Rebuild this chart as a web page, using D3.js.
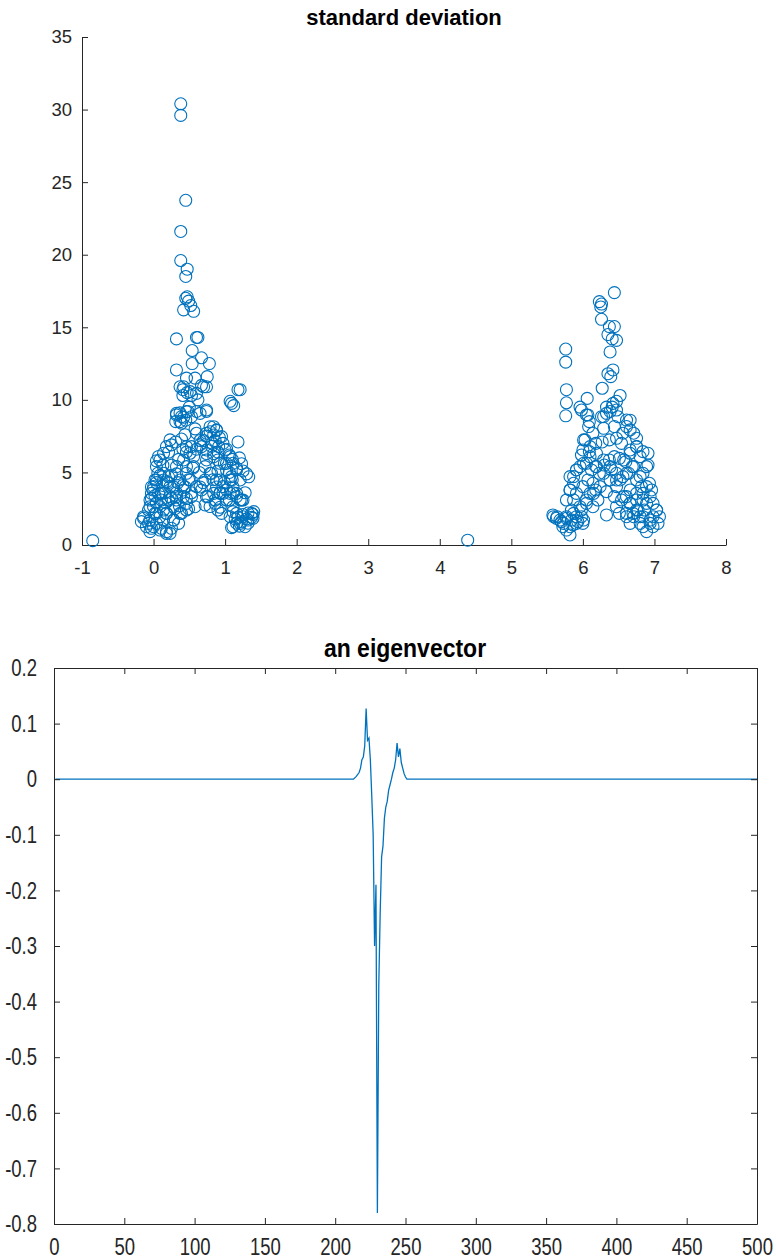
<!DOCTYPE html>
<html>
<head>
<meta charset="utf-8">
<script src="https://cdn.jsdelivr.net/npm/d3@7"></script>
<style>
  body { margin: 0; background: #fff; }
  svg { display: block; font-family: "Liberation Sans", Arial, sans-serif; }
</style>
</head>
<body>
<svg id="chart" width="776" height="1260"></svg>
<script>
// standard deviation points, left group [x, y]
const groupLeft = [
  [0.38,30.4],[0.38,29.6],[0.45,23.75],[0.38,21.6],[0.38,19.6],[0.47,19.0],[0.45,18.5],[0.47,17.1],
  [0.45,17.0],[0.49,16.8],[0.52,16.5],[0.42,16.2],[0.56,16.1],[0.32,14.2],[0.60,14.3],[0.62,14.3],
  [0.54,13.4],[0.54,12.5],[0.67,12.9],[0.78,12.5],[0.32,12.06],[0.46,11.5],[0.58,11.5],[0.75,11.6],
  [0.70,10.9],[0.37,10.9],[0.41,10.7],[0.47,10.5],[0.53,10.3],[0.41,10.3],[0.62,10.0],[1.18,10.7],
  [1.21,10.7],[1.09,9.76],[1.12,9.6],[1.07,9.9],[0.74,9.2],[0.32,8.96],[0.37,9.1],[0.42,8.8],
  [0.31,8.5],[0.39,8.4],[0.45,8.6],[0.48,9.2],[0.58,8.0],[0.50,9.5],[0.60,9.2],[0.53,8.84],
  [0.84,8.15],[0.79,7.8],[0.88,7.9],[0.74,7.5],[0.92,7.4],[0.70,7.2],[0.86,7.2],[0.97,7.0],
  [0.65,6.9],[0.81,6.8],[1.02,6.6],[0.60,6.6],[0.90,6.4],[0.74,6.3],[1.06,6.2],[1.10,5.9],
  [1.18,7.1],[1.20,6.0],[1.23,5.6],[1.30,4.9],[1.33,4.7],[1.25,5.1],[1.16,5.3],[0.99,5.6],
  [1.06,5.0],[0.90,5.1],[1.10,4.5],[0.99,4.3],[0.83,4.5],[1.02,3.8],[0.93,3.6],[1.11,3.6],
  [1.28,3.6],[1.21,3.1],[1.06,3.1],[0.93,2.6],[0.72,2.76],[0.79,2.65],[0.69,4.3],[0.64,5.0],
  [1.11,2.3],[1.18,1.9],[1.25,2.1],[1.32,2.2],[1.39,2.1],[1.37,1.9],[1.30,1.8],[1.23,1.6],
  [1.16,1.5],[1.09,1.2],[1.20,1.3],[1.32,1.5],[1.14,1.8],[1.40,2.3],
  [0.07,6.1],[0.04,5.8],[0.13,5.5],[0.21,6.4],[0.25,6.9],[0.31,7.1],[0.39,7.3],[0.44,7.6],
  [0.41,6.6],[0.35,5.9],[0.25,5.5],[0.09,4.8],[0.04,4.3],[-0.01,3.8],[0.02,3.4],[0.04,2.9],
  [-0.03,3.2],[0.13,4.1],[0.16,3.6],[0.20,4.3],[0.25,4.8],[0.17,2.9],[0.25,3.2],[0.32,3.6],
  [0.34,4.3],[0.30,2.5],[0.36,2.7],[0.46,3.2],[0.49,2.5],[0.41,4.1],[0.49,4.5],[0.53,3.6],
  [0.55,5.3],[0.46,6.4],[0.32,4.9],
  [-0.14,1.84],[-0.10,1.26],[-0.03,1.15],[-0.05,1.72],[0.04,1.49],[0.11,1.15],[0.18,0.8],[0.23,0.8],
  [0.02,2.18],[0.09,1.95],[0.18,2.18],[0.28,1.72],[0.35,1.49],[0.00,2.64],[-0.07,2.41],[0.14,2.41],
  [0.07,3.56],[0.11,3.1],[-0.03,4.0],[0.04,4.48],[0.14,4.94],[0.21,4.7],[0.18,4.36],[0.28,4.0],
  [0.23,3.33],[0.32,3.1],[0.42,3.33],[0.39,2.18],[0.46,2.41],[0.58,2.64],[0.44,4.0],[0.46,5.4],
  [0.56,6.1],[0.53,6.78],[0.60,7.7],[0.65,7.2],[0.67,6.78],[0.74,5.86],[0.84,6.3],[0.90,5.86],
  [1.02,5.63],[0.79,4.94],[0.93,4.48],[1.07,4.48],[1.11,4.0],[1.16,3.56],[1.23,3.1],[0.88,4.0],
  [0.84,3.56],[0.97,3.56],[0.86,3.1],[0.72,4.48],[0.65,4.0],[0.74,3.33],[0.90,2.41],[0.95,2.18],
  [0.42,10.9],[0.51,10.57],[0.60,10.45],[0.67,11.0],[0.74,10.9],[0.32,9.07],[0.39,8.84],[0.46,9.19],
  [0.37,8.5],[0.74,9.3],[0.65,9.07],[0.79,8.15],[0.88,7.93],[0.84,7.58],[0.95,7.47],[0.74,7.7],
  [0.82,7.0],[0.91,6.78],[1.00,6.55],[1.07,6.09],[1.11,5.63],[1.16,5.17],[0.74,6.55],[0.84,6.09],
  [0.93,5.63],[1.02,5.17],[1.09,4.71],[1.21,4.48],[0.72,5.4],[0.81,4.94],[0.88,4.48],[0.97,4.02],
  [1.07,3.56],[1.16,3.33],[1.25,3.1],[0.67,3.79],[0.76,3.33],[0.86,2.87],[0.93,3.56],[1.02,3.1],
  [1.11,2.64],[0.23,7.24],[0.18,6.78],[0.14,6.32],[0.09,5.86],[0.04,5.4],[0.06,4.94],[0.02,4.48],
  [0.00,4.02],[-0.03,3.56],[-0.05,3.1],[-0.05,2.64],[0.14,4.48],[0.23,4.02],[0.11,3.56],[0.21,3.1],
  [0.09,2.64],[0.18,2.18],[0.28,2.64],[0.32,3.33],[0.42,3.79],[0.37,4.48],[0.46,4.94],[0.32,5.4],
  [0.42,5.86],[0.51,6.32],[0.46,6.78],[0.56,5.4],[0.51,4.48],[0.60,4.02],[0.53,3.33],[0.46,2.87],
  [0.37,2.18],[0.28,1.72],[0.14,1.72],[0.04,2.18],[-0.14,1.95],[-0.07,1.49],[0.00,1.26],[0.09,1.03],
  [0.18,0.92],[0.25,1.15],[-0.05,0.92],[-0.17,1.61],[1.07,1.95],[1.16,2.18],[1.25,1.95],[1.32,1.72],
  [1.37,2.18],[1.21,1.49],[1.11,1.26],[1.28,1.26],[1.39,1.84]
];

// right group [x, y]
const groupRight = [
  [6.44,17.39],[6.23,16.77],[6.26,16.6],[6.25,16.4],[6.26,15.55],[6.37,15.05],[6.44,15.05],
  [6.35,14.5],[6.41,14.2],[6.47,14.1],[6.38,13.3],[5.76,13.5],[5.76,12.6],[6.35,11.8],[6.42,12.06],
  [6.39,11.6],[6.27,10.8],[5.77,10.7],[5.77,9.8],[5.76,8.9],[6.06,10.1],[5.96,9.5],[5.98,9.3],
  [6.52,10.3],[6.47,9.9],[6.41,9.5],[6.33,9.5],[6.38,9.2],[6.05,8.96],[6.09,8.5],[6.08,8.16],
  [6.29,8.84],[6.29,8.04],[6.44,8.16],[6.49,8.84],[6.66,8.6],[6.61,8.16],[6.71,7.7],[6.75,7.35],
  [6.14,7.7],[6.03,7.24],[6.00,6.55],[5.98,6.2],[6.09,6.43],[6.18,7.0],[6.27,7.1],[6.37,7.24],
  [6.47,7.35],[6.56,7.7],[6.54,7.0],[6.66,6.55],[6.75,6.78],[6.84,6.43],[6.91,6.32],[6.91,5.51],
  [5.91,5.17],[5.96,5.4],[6.05,5.63],[6.12,5.17],[6.18,5.4],[6.23,4.94],[6.30,5.51],[6.37,5.86],
  [6.44,6.09],[6.51,5.97],[6.60,5.74],[6.69,5.4],[6.64,4.94],[6.56,4.71],[6.47,4.48],[6.40,5.17],
  [5.82,4.71],[5.87,4.25],[5.82,3.79],[5.77,3.1],[5.91,3.56],[6.00,4.02],[6.07,4.48],[6.14,4.25],
  [6.10,3.56],[6.18,3.79],[6.05,2.87],[5.98,2.41],[5.91,1.95],[6.00,1.49],[6.14,2.64],[6.21,3.1],
  [6.33,3.68],[6.33,2.07],[6.44,3.33],[6.54,3.1],[6.61,3.33],[6.66,2.87],[6.75,3.1],[6.84,3.56],
  [6.93,4.25],[6.96,3.79],[6.89,2.87],[6.98,2.87],[7.03,2.41],[7.07,1.95],[7.05,1.49],[6.98,1.26],
  [6.89,0.92],[6.84,1.26],[6.94,1.72],[6.80,1.95],[6.70,2.18],[6.61,1.95],[6.66,1.49],[6.77,2.41],
  [6.86,2.41],[6.51,2.18],[6.47,2.64],[6.82,4.02],[6.75,4.48],[6.84,4.94],
  [5.58,2.07],[5.63,1.84],[5.70,1.61],[5.77,1.84],[5.84,1.72],[5.82,0.69],[5.72,1.26],[5.64,1.95],
  [5.86,1.38],[5.93,1.61],[5.98,1.95],[5.84,2.41],[5.77,1.03],
  [6.07,8.96],[6.42,9.76],[6.33,9.07],[6.26,8.84],[6.47,9.3],[6.61,8.61],[6.66,7.93],
  [6.01,7.24],[6.10,6.78],[6.19,6.32],[6.29,5.86],[6.38,5.4],[6.47,4.94],[6.10,6.09],[6.01,5.63],
  [5.91,5.17],[5.87,4.71],[6.19,5.4],[6.29,4.94],[6.38,4.48],[6.57,5.86],[6.66,6.32],[6.75,6.78],
  [6.80,6.09],[6.89,5.4],[6.71,5.4],[6.61,4.94],[6.52,4.48],[6.47,4.02],[6.80,4.71],[6.89,4.02],
  [6.94,3.33],[6.84,3.1],[6.75,3.56],[6.66,3.79],[6.57,3.33],[6.66,2.87],[6.75,2.41],[6.84,1.95],
  [6.94,1.49],[6.98,1.95],[7.03,2.41],[6.80,1.49],[6.71,1.95],[6.61,2.18],
  [5.59,1.95],[5.68,1.72],[5.77,1.95],[5.87,2.18],[5.96,2.64],[6.05,3.1],[6.15,3.56],[6.24,4.02],
  [5.73,1.49],[5.82,1.26],[5.91,1.49],[6.01,1.72],[5.87,3.1],[5.82,3.79]
];

const outliers = [[-0.85,0.3],[4.39,0.33]];

const sdXTicks = [-1,0,1,2,3,4,5,6,7,8];
const sdYTicks = [0,5,10,15,20,25,30,35];

// eigenvector: sample index and value (flat zero outside 213..251)
const eigIdx = [1,213,215,217,218,219,220,221,222,223,224,225,226,227,228,229,230,231,232,233,234,235,236,237,238,239,240,241,242,243,244,245,246,247,248,249,250,251,500];
const eigVal = [0,0,0.005,0.012,0.02,0.035,0.04,0.06,0.127,0.07,0.074,0.035,-0.03,-0.1,-0.3,-0.19,-0.78,-0.37,-0.24,-0.14,-0.12,-0.07,-0.05,-0.04,-0.02,-0.01,0,0.012,0.02,0.035,0.065,0.04,0.055,0.03,0.02,0.01,0.004,0,0];

const evXTicks = [0,50,100,150,200,250,300,350,400,450,500];
const evYTicks = [0.2,0.1,0,-0.1,-0.2,-0.3,-0.4,-0.5,-0.6,-0.7,-0.8];

const blue = "#0072BD";
const axisCol = "#262626";
const svg = d3.select("#chart");

function styleAxis(g, size, stretch) {
  g.select(".domain").attr("stroke", axisCol);
  g.selectAll(".tick line").attr("stroke", axisCol);
  g.selectAll(".tick text").attr("fill", axisCol).style("font-size", size + "px");
  if (stretch) g.selectAll(".tick text").attr("transform", `scale(1,${stretch})`);
  g.attr("font-family", null);
}

// ---- top: standard deviation scatter
const x1 = d3.scaleLinear().domain([-1, 8]).range([82, 726]);
const y1 = d3.scaleLinear().domain([0, 35]).range([545, 37]);

svg.append("g")
  .attr("transform", "translate(0,545)")
  .call(d3.axisBottom(x1).tickValues(sdXTicks).tickFormat(d => String(d)).tickSizeInner(-6).tickSizeOuter(0).tickPadding(16))
  .call(g => styleAxis(g, 18.5));

svg.append("g")
  .attr("transform", "translate(82,0)")
  .call(d3.axisLeft(y1).tickValues(sdYTicks).tickFormat(d => String(d)).tickSizeInner(-6).tickSizeOuter(0).tickPadding(10))
  .call(g => styleAxis(g, 18.5));

svg.append("g").selectAll("circle")
  .data(groupLeft.concat(groupRight, outliers))
  .enter()
  .append("circle")
  .attr("cx", d => x1(d[0]))
  .attr("cy", d => y1(d[1]))
  .attr("r", 6)
  .attr("fill", "none")
  .attr("stroke", blue)
  .attr("stroke-width", 1.1);

svg.append("text")
  .attr("x", 404).attr("y", 25)
  .attr("text-anchor", "middle")
  .style("font-size", "22px").style("font-weight", "bold")
  .text("standard deviation");

// ---- bottom: eigenvector line
const x2 = d3.scaleLinear().domain([0, 500]).range([54, 757]);
const y2 = d3.scaleLinear().domain([-0.8, 0.2]).range([1224, 668]);

svg.append("path")
  .datum(eigIdx.map((d, i) => [d, eigVal[i]]))
  .attr("fill", "none")
  .attr("stroke", blue)
  .attr("stroke-width", 1.3)
  .attr("d", d3.line().x(d => x2(d[0])).y(d => y2(d[1])));

svg.append("g")
  .attr("transform", "translate(0,1224)")
  .call(d3.axisBottom(x2).tickValues(evXTicks).tickFormat(d => String(d)).tickSizeInner(-6).tickSizeOuter(0).tickPadding(11))
  .call(g => styleAxis(g, 18.5, 1.3));
svg.append("g")
  .attr("transform", "translate(0,668)")
  .call(d3.axisTop(x2).tickValues(evXTicks).tickFormat("").tickSizeInner(-6).tickSizeOuter(0))
  .call(g => styleAxis(g, 18.5));
svg.append("g")
  .attr("transform", "translate(54,0)")
  .call(d3.axisLeft(y2).tickValues(evYTicks).tickFormat(d => String(d)).tickSizeInner(-6).tickSizeOuter(0).tickPadding(17))
  .call(g => styleAxis(g, 18.5, 1.3));
svg.append("g")
  .attr("transform", "translate(757,0)")
  .call(d3.axisRight(y2).tickValues(evYTicks).tickFormat("").tickSizeInner(-6).tickSizeOuter(0))
  .call(g => styleAxis(g, 18.5));

svg.append("text")
  .attr("transform", "translate(405,657) scale(1,1.15)")
  .attr("text-anchor", "middle")
  .style("font-size", "23px").style("font-weight", "bold")
  .text("an eigenvector");
</script>
</body>
</html>
